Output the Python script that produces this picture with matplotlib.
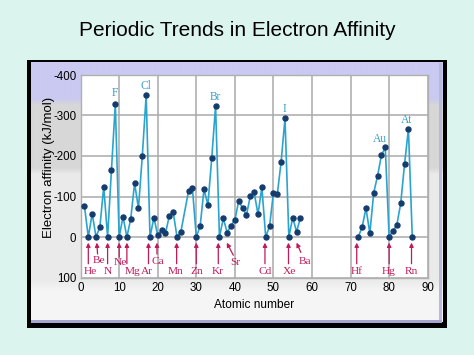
import numpy as np
import matplotlib
matplotlib.use("Agg")
import matplotlib.pyplot as plt
from matplotlib.patches import Rectangle
from matplotlib.colors import to_rgb

plt.rcParams['font.family'] = ['Liberation Sans', 'DejaVu Sans']
plt.rcParams['axes.unicode_minus'] = False

# ---------------- data ----------------
atomic_number = [1, 2, 3, 4, 5, 6, 7, 8, 9, 10,
                 11, 12, 13, 14, 15, 16, 17, 18, 19, 20,
                 21, 22, 23, 24, 25, 26, 28, 29, 30,
                 31, 32, 33, 34, 35, 36, 37, 38, 39, 40,
                 41, 42, 43, 44, 45, 46, 47, 48, 49, 50,
                 51, 52, 53, 54, 55, 56, 57,
                 72, 73, 74, 75, 76, 77, 78, 79, 80,
                 81, 82, 83, 84, 85, 86]
electron_affinity = [-76, 0, -58, 0, -25, -124, 0, -165, -328, 0,
                     -50, 0, -45, -133, -71, -200, -350, 0, -48, -4,
                     -17, -9, -52, -62, 0, -13, -114, -120, 0,
                     -27, -118, -79, -194, -324, 0, -46, -11, -28, -42,
                     -89, -71, -54, -101, -110, -56, -123, 0, -27, -109,
                     -105, -186, -293, 0, -48, -13, -48,
                     0, -25, -71, -9, -109, -151, -202, -221, 0,
                     -15, -30, -83, -180, -267, 0]

peak_labels = ["F", "Cl", "Br", "I", "Au", "At"]
peak_label_x = [8.8, 16.9, 34.9, 52.8, 77.7, 84.6]
peak_label_y = [-355, -374, -346, -316, -242, -290]

low_labels = ["He", "Be", "N", "Ne", "Mg", "Ar", "Ca", "Mn", "Zn", "Kr",
              "Sr", "Cd", "Xe", "Ba", "Hf", "Hg", "Rn"]
low_arrow_tip_x = [2, 4.2, 7, 10, 12, 17.6, 19.8, 24.9, 30, 35.7,
                   37.9, 47.8, 53.9, 56.0, 71.6, 80, 85.8]
low_arrow_tail_x = [2, 4.4, 7, 10, 12, 17.6, 19.8, 24.9, 30, 35.7,
                    39.6, 47.8, 53.9, 57.1, 71.6, 80, 85.8]
low_arrow_tail_y = [66, 42, 66, 50, 66, 66, 42, 66, 66, 66,
                    45, 66, 66, 38, 66, 66, 66]
low_text_x = [2.4, 4.9, 7, 10.3, 13.6, 17.1, 19.9, 24.7, 30, 35.6,
              40.2, 47.8, 54.1, 58.2, 71.6, 80, 85.8]
low_text_y = [86, 59, 86, 64, 86, 86, 60, 86, 86, 86,
              62, 86, 86, 61, 86, 86, 86]

x_ticks = [0, 10, 20, 30, 40, 50, 60, 70, 80, 90]
y_ticks = [-400, -300, -200, -100, 0, 100]

# ---------------- figure ----------------
W, H = 474, 355
fig = plt.figure(figsize=(W / 100, H / 100), dpi=100)
fig.patch.set_facecolor('#dcf4ee')

bg = fig.add_axes([0, 0, 1, 1])
bg.axis('off')
bg.add_patch(Rectangle((27.5, 59.5), 419.5, 268, facecolor='black',
                       edgecolor='none', zorder=1))

stops = [(63, '#c9c9f1'), (99, '#c9c9f1'), (106, '#d7d7d7'), (168, '#d7d7d7'),
         (175, '#ebebeb'), (280, '#eaeaea'), (292, '#f5f5f5'), (322, '#f6f6f6')]
ys = np.arange(63, 323)
sy = [s[0] for s in stops]
grad = np.zeros((len(ys), 1, 3))
for c in range(3):
    grad[:, 0, c] = np.interp(ys, sy, [to_rgb(s[1])[c] for s in stops])
bg.imshow(grad, extent=(31, 442.5, 322.5, 63), aspect='auto',
          interpolation='bilinear', origin='upper', zorder=2)
bg.add_patch(Rectangle((439.5, 63), 3, 259.5, facecolor='#b9b9da',
                       edgecolor='none', zorder=3))
bg.add_patch(Rectangle((31, 320), 411.5, 2.5, facecolor='#a6a6cf',
                       edgecolor='none', zorder=3))
bg.set_xlim(0, W)
bg.set_ylim(H, 0)

fig.text(237.2 / W, 1 - 31 / H, 'Periodic Trends in Electron Affinity',
         ha='center', va='center', fontsize=15, color='black')

ax = fig.add_axes([80.6 / W, 1 - 277.5 / H, (427.7 - 80.6) / W, (277.5 - 75) / H])
ax.set_facecolor('white')
ax.set_xlim(0, 90)
ax.set_ylim(100, -400)
ax.set_xticks(x_ticks)
ax.set_yticks(y_ticks)
ax.set_xticklabels([str(v) for v in x_ticks])
ax.set_yticklabels([str(v) for v in y_ticks])
ax.tick_params(length=0, labelsize=8.3, pad=3)
ax.grid(True, color='#a9a9a9', lw=1.1)
ax.set_axisbelow(True)
for s in ax.spines.values():
    s.set_color('#b0b0b0')
    s.set_linewidth(1.0)

# split the series where atomic numbers jump (gap in data)
zs = np.array(atomic_number, dtype=float)
ea = np.array(electron_affinity, dtype=float)
breaks = np.where(np.diff(zs) > 5)[0] + 1
for zseg, eseg in zip(np.split(zs, breaks), np.split(ea, breaks)):
    ax.plot(zseg, eseg, color='#2aa4cf', lw=1.2, marker='o', ms=3.6,
            mfc='#153c6e', mec='#153c6e', zorder=3)

for t, x, y in zip(peak_labels, peak_label_x, peak_label_y):
    ax.text(x, y, t, ha='center', va='center', family='Liberation Serif',
            fontsize=8.3, color='#3a9ec8')

arrow_col = '#c2195a'
for t, tx0, tx1, ty1, lx, ly in zip(low_labels, low_arrow_tip_x, low_arrow_tail_x,
                                    low_arrow_tail_y, low_text_x, low_text_y):
    ax.annotate('', xy=(tx0, 14), xytext=(tx1, ty1),
                arrowprops=dict(arrowstyle='-|>', color=arrow_col, lw=0.9,
                                mutation_scale=6, shrinkA=0, shrinkB=0))
    ax.text(lx, ly, t, ha='center', va='center', family='Liberation Serif',
            fontsize=8.2, color=arrow_col)

fig.text(49 / W, 1 - 167 / H, 'Electron affinity (kJ/mol)', rotation=90,
         ha='center', va='center', fontsize=9.5, color='black')
fig.text(254.2 / W, 1 - 305 / H, 'Atomic number', ha='center', va='center',
         fontsize=8.6, color='black')

fig.savefig('out.png', dpi=100, facecolor=fig.get_facecolor())
